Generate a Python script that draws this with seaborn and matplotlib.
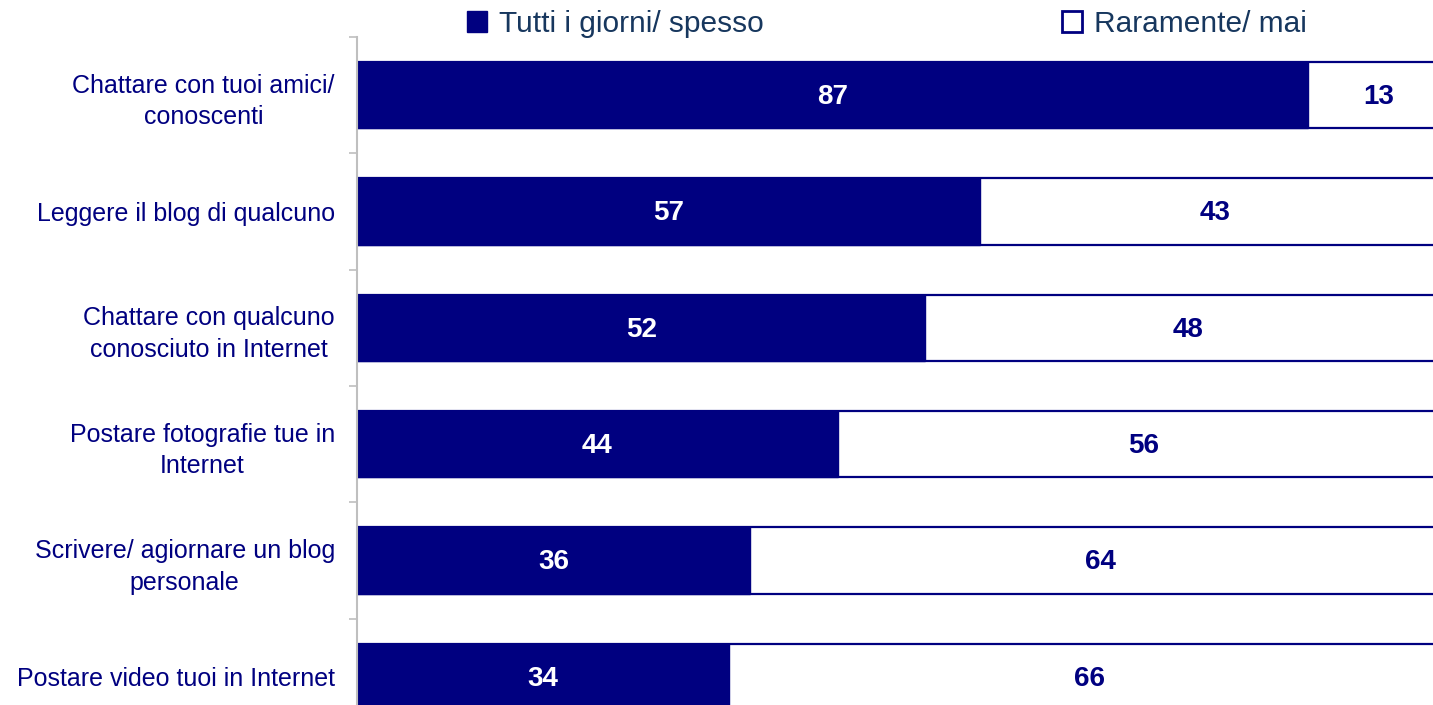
import matplotlib
matplotlib.use('Agg')
import matplotlib.pyplot as plt
import seaborn as sns
import pandas as pd
import numpy as np
from matplotlib.patches import Patch

categories = [
    "Chattare con tuoi amici/\nconoscenti",
    "Leggere il blog di qualcuno",
    "Chattare con qualcuno\nconosciuto in Internet",
    "Postare fotografie tue in\nInternet",
    "Scrivere/ agiornare un blog\npersonale",
    "Postare video tuoi in Internet",
]
often = [87, 57, 52, 44, 36, 34]
rarely = [13, 43, 48, 56, 64, 66]
legend_labels = ["Tutti i giorni/ spesso", "Raramente/ mai"]

NAVY = "#000080"
LEG_TXT = "#17375E"

sns.set_theme(style="white")
plt.rcParams["font.family"] = ["Liberation Sans", "DejaVu Sans"]

df = pd.DataFrame({"cat": categories, "often": often, "rarely": rarely})
df["total"] = df["often"] + df["rarely"]

fig = plt.figure(figsize=(14.33, 7.05), dpi=100)
ax = fig.add_axes([357 / 1433, -30 / 705, 1093 / 1433, 698 / 705])

sns.barplot(data=df, y="cat", x="total", color="white", edgecolor=NAVY,
            linewidth=1.6, width=0.57, orient="h", ax=ax, saturation=1)
sns.barplot(data=df, y="cat", x="often", color=NAVY, edgecolor=NAVY,
            linewidth=1.0, width=0.57, orient="h", ax=ax, saturation=1)

for i, (o, r) in enumerate(zip(often, rarely)):
    ax.text(o / 2, i + 0.015, str(o), color="white", fontweight="bold",
            ha="center", va="center", fontsize=20)
    ax.text(o + r / 2, i + 0.015, str(r), color=NAVY, fontweight="bold",
            ha="center", va="center", fontsize=20)

ax.set_xlim(0, 100)
ax.set_ylim(5.5, -0.5)
ax.set_xlabel("")
ax.set_ylabel("")
ax.set_xticks([])
ax.set_yticks(range(len(categories)))
ax.set_yticklabels(categories, fontsize=18, color=NAVY,
                   multialignment="center", linespacing=1.4)
ax.set_yticks(np.arange(-0.5, len(categories), 1), minor=True)
ax.tick_params(axis="y", which="major", length=0, pad=16)
ax.tick_params(axis="y", which="minor", length=6, width=1.2, color="#BFBFBF", left=True)
for s in ["top", "right", "bottom"]:
    ax.spines[s].set_visible(False)
ax.spines["left"].set_color("#BFBFBF")
ax.spines["left"].set_linewidth(1.5)

handles = [Patch(facecolor=NAVY, edgecolor=NAVY),
           Patch(facecolor="white", edgecolor=NAVY, linewidth=2)]
fig.legend(handles=handles, labels=legend_labels, ncol=2, loc="center left",
           bbox_to_anchor=(467 / 1433, 1 - 24 / 705), frameon=False,
           fontsize=21.5, handlelength=0.67, handleheight=0.67,
           handletextpad=0.4, columnspacing=10.0, labelcolor=LEG_TXT,
           borderaxespad=0, borderpad=0)

fig.savefig("out.png", dpi=100)
